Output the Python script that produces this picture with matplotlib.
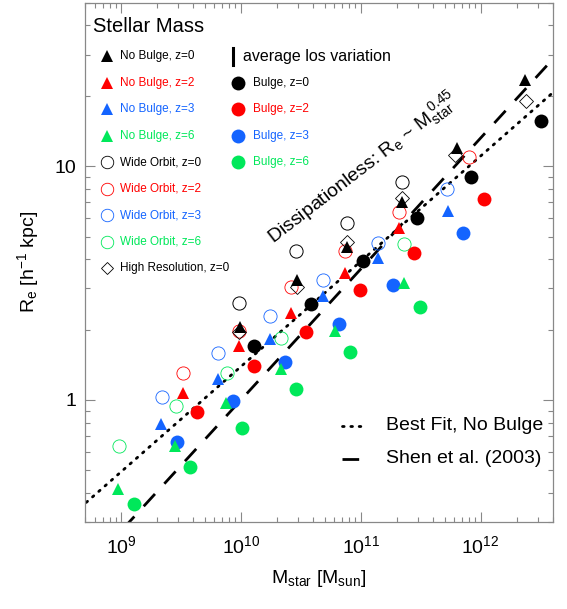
import numpy as np
import matplotlib
matplotlib.use("Agg")
import matplotlib.pyplot as plt
from matplotlib.ticker import FixedLocator, LogLocator, NullFormatter, FuncFormatter

plt.rcParams['font.family'] = ['Liberation Sans', 'DejaVu Sans']
plt.rcParams['mathtext.fontset'] = 'custom'
plt.rcParams['mathtext.rm'] = 'Liberation Sans'
plt.rcParams['mathtext.it'] = 'Liberation Sans'
plt.rcParams['mathtext.bf'] = 'Liberation Sans:bold'

# stellar mass [Msun] and effective radius [h^-1 kpc]
nb0_m = [9.84e9, 2.92e10, 7.65e10, 2.20e11, 6.34e11, 2.35e12]
nb0_r = [2.06, 3.26, 4.53, 7.03, 11.9, 23.4]
nb2_m = [3.27e9, 9.7e9, 2.61e10, 7.4e10, 2.10e11]
nb2_r = [1.076, 1.70, 2.36, 3.50, 5.43]
nb3_m = [2.14e9, 6.48e9, 1.75e10, 4.88e10, 1.40e11, 5.39e11]
nb3_r = [0.79, 1.23, 1.82, 2.79, 4.04, 6.45]
nb6_m = [9.48e8, 2.82e9, 7.47e9, 2.15e10, 6.11e10, 2.31e11]
nb6_r = [0.416, 0.636, 0.975, 1.354, 1.97, 3.18]

wo0_m = [9.7e9, 2.89e10, 7.74e10, 2.20e11]
wo0_r = [2.61, 4.34, 5.70, 8.59]
wo2_m = [3.27e9, 9.7e9, 2.61e10, 7.4e10, 2.10e11, 8.07e11]
wo2_r = [1.30, 1.97, 3.03, 4.35, 6.39, 10.9]
wo3_m = [2.18e9, 6.48e9, 1.75e10, 4.88e10, 1.39e11, 5.29e11]
wo3_r = [1.03, 1.585, 2.29, 3.26, 4.71, 7.99]
wo6_m = [9.67e8, 2.86e9, 7.62e9, 2.15e10, 2.31e11]
wo6_r = [0.636, 0.944, 1.30, 1.85, 4.65]

hr0_m = [9.7e9, 2.92e10, 7.74e10, 2.20e11, 6.13e11, 2.40e12]
hr0_r = [1.96, 3.03, 4.73, 7.29, 11.2, 18.9]

bu0_m = [1.29e10, 3.85e10, 1.04e11, 2.94e11, 8.29e11, 3.18e12]
bu0_r = [1.70, 2.58, 3.93, 5.99, 9.02, 15.65]
bu2_m = [4.33e9, 1.29e10, 3.50e10, 9.87e10, 2.79e11, 1.07e12]
bu2_r = [0.892, 1.40, 1.96, 2.96, 4.24, 7.24]
bu3_m = [2.91e9, 8.65e9, 2.34e10, 6.6e10, 1.85e11, 7.11e11]
bu3_r = [0.662, 0.994, 1.46, 2.12, 3.10, 5.20]
bu6_m = [1.27e9, 3.76e9, 1.02e10, 2.89e10, 8.15e10, 3.13e11]
bu6_r = [0.358, 0.519, 0.758, 1.11, 1.61, 2.51]

# power laws R = norm * (M / 1e10)^slope
fit_slope, fit_norm = 0.45, 1.39
shen_slope, shen_norm = 0.56, 1.0

red = '#ff0000'
blue = '#1464ff'
green = '#00e85a'
zcols = ['k', red, blue, green]
zlabels = ['z=0', 'z=2', 'z=3', 'z=6']

fig = plt.figure(figsize=(5.67, 6.09), dpi=100)
ax = fig.add_axes([0.150, 0.1424, 0.8248, 0.8532])
ax.set_xscale('log')
ax.set_yscale('log')
ax.set_xlim(5e8, 4e12)
ax.set_ylim(0.3, 50)

mm = np.logspace(8.5, 12.8, 200)
ax.plot(mm, fit_norm * (mm / 1e10) ** fit_slope, color='k', lw=2.0,
        linestyle=(0, (0.6, 2.4)), dash_capstyle='round')
ax.plot(mm, shen_norm * (mm / 1e10) ** shen_slope, color='k', lw=2.0,
        linestyle=(0, (6, 5)))

wide = [(wo0_m, wo0_r), (wo2_m, wo2_r), (wo3_m, wo3_r), (wo6_m, wo6_r)]
nob = [(nb0_m, nb0_r), (nb2_m, nb2_r), (nb3_m, nb3_r), (nb6_m, nb6_r)]
bul = [(bu0_m, bu0_r), (bu2_m, bu2_r), (bu3_m, bu3_r), (bu6_m, bu6_r)]

for (m, r), c in zip(wide, zcols):
    ax.plot(m, r, 'o', ms=9.5, mfc='none', mec=c, mew=0.6 if c != 'k' else 0.7)
ax.plot(hr0_m, hr0_r, 'D', ms=7, mfc='none', mec='k', mew=0.6)
for (m, r), c in zip(bul, zcols):
    ax.plot(m, r, 'o', ms=10, mfc=c, mec=c, mew=0)
for (m, r), c in zip(nob, zcols):
    ax.plot(m, r, '^', ms=9, mfc=c, mec=c, mew=0)

# ticks
ax.xaxis.set_major_locator(FixedLocator([1e9, 1e10, 1e11, 1e12]))
ax.xaxis.set_minor_locator(LogLocator(base=10, subs=np.arange(2, 10)))
ax.xaxis.set_minor_formatter(NullFormatter())
ax.xaxis.set_major_formatter(FuncFormatter(lambda v, p: r'$10^{%d}$' % round(np.log10(v))))
ax.yaxis.set_major_locator(FixedLocator([1, 10]))
ax.yaxis.set_minor_locator(LogLocator(base=10, subs=np.arange(2, 10)))
ax.yaxis.set_minor_formatter(NullFormatter())
ax.yaxis.set_major_formatter(FuncFormatter(lambda v, p: '%g' % v))
ax.tick_params(which='both', direction='in', top=True, right=True,
               color='#888888', width=0.8, labelsize=14)
ax.tick_params(which='major', length=7.5)
ax.tick_params(which='minor', length=3.8)
ax.tick_params(axis='x', pad=9)
ax.tick_params(axis='y', pad=6)
for s in ax.spines.values():
    s.set_color('#888888')
    s.set_linewidth(0.9)

ax.set_xlabel(r'M$_{\rm star}$ [M$_{\rm sun}$]', fontsize=14, labelpad=8)
ax.set_ylabel(r'R$_{\rm e}$ [h$^{-1}$ kpc]', fontsize=14, labelpad=10)

# legend (top left)
T = ax.transAxes
ax.text(0.017, 0.954, 'Stellar Mass', transform=T, fontsize=14.5, va='center')
rows = [0.8965 - 0.051 * i for i in range(9)]
for i, (c, z) in enumerate(zip(zcols, zlabels)):
    ax.plot(0.047, rows[i], '^', ms=8.5, mfc=c, mec=c, mew=0, transform=T)
    ax.text(0.0748, rows[i], 'No Bulge, ' + z, color=c, fontsize=8.5,
            va='center', transform=T)
    ax.plot(0.047, rows[4 + i], 'o', ms=9, mfc='none', mec=c, mew=0.6, transform=T)
    ax.text(0.0748, rows[4 + i], 'Wide Orbit, ' + z, color=c, fontsize=8.5,
            va='center', transform=T)
    ax.plot(0.3278, rows[1 + i], 'o', ms=10, mfc=c, mec=c, mew=0, transform=T)
    ax.text(0.3586, rows[1 + i], 'Bulge, ' + z, color=c, fontsize=8.5,
            va='center', transform=T)
ax.plot(0.047, rows[8], 'D', ms=6.5, mfc='none', mec='k', mew=0.6, transform=T)
ax.text(0.0748, rows[8], 'High Resolution, z=0', fontsize=8.5, va='center', transform=T)
ax.plot([0.3171, 0.3171], [rows[0] - 0.016, rows[0] + 0.016], color='k', lw=2.2, transform=T)
ax.text(0.3372, rows[0], 'average los variation', fontsize=11.5, va='center', transform=T)

# legend (bottom right)
ax.plot([0.549, 0.602], [0.186, 0.186], color='k', lw=2.0,
        linestyle=(0, (0.6, 2.4)), dash_capstyle='round', transform=T)
ax.plot([0.549, 0.602], [0.1218, 0.1218], color='k', lw=2.0,
        linestyle=(0, (6, 5)), transform=T)
ax.text(0.6436, 0.186, 'Best Fit, No Bulge', fontsize=14, va='center', transform=T)
ax.text(0.6436, 0.1218, 'Shen et al. (2003)', fontsize=14, va='center', transform=T)

ax.text(0.402, 0.536, r'Dissipationless: R$_{\rm e}$ ~ M$_{\rm star}^{\ 0.45}$',
        transform=T, fontsize=14, rotation=37.5, rotation_mode='anchor',
        ha='left', va='baseline')

fig.savefig('out.png', dpi=100)
